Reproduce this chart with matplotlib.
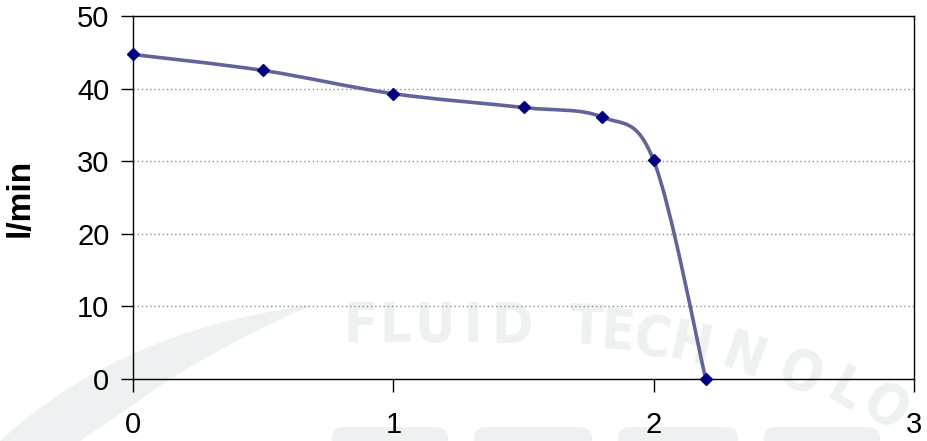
import numpy as np
import matplotlib
matplotlib.use('Agg')
import matplotlib.pyplot as plt
from matplotlib.path import Path
from matplotlib.patches import PathPatch, FancyBboxPatch

# Data
pressure = [0.0, 0.5, 1.0, 1.5, 1.8, 2.0, 2.2]
flow = [44.7, 42.5, 39.3, 37.4, 36.1, 30.1, 0.0]
x_ticks = [0, 1, 2, 3]
y_ticks = [0, 10, 20, 30, 40, 50]
y_label = 'l/min'

plt.rcParams['font.family'] = ['Liberation Sans', 'DejaVu Sans']

fig = plt.figure(figsize=(9.27, 4.41), dpi=100)
ax = fig.add_axes([133 / 927, 1 - 379 / 441, 781 / 927, 363 / 441])
ax.set_facecolor('none')

# faint watermark in the background (pixel coordinates)
wm_color = '#edf1f1'
bg = fig.add_axes([0, 0, 1, 1], zorder=-1)
bg.set_xlim(0, 927)
bg.set_ylim(441, 0)
bg.axis('off')
swoosh = Path([(0, 441), (0, 441), (120, 330), (312, 305),
               (200, 355), (140, 400), (80, 441), (0, 441)],
              [Path.MOVETO, Path.LINETO, Path.CURVE3, Path.CURVE3,
               Path.CURVE3, Path.CURVE3, Path.LINETO, Path.CLOSEPOLY])
bg.add_patch(PathPatch(swoosh, facecolor=wm_color, edgecolor='none'))
letters = [('F', 360, 327, 0), ('L', 395, 327, 0), ('U', 435, 327, 0),
           ('I', 473, 327, 0), ('D', 512, 327, 0),
           ('T', 586, 328, -2), ('E', 618, 333, -4), ('C', 652, 340, -8),
           ('H', 690, 347, -13), ('N', 743, 358, -20), ('O', 800, 375, -25),
           ('L', 845, 392, -30), ('O', 885, 408, -35)]
for ch, lx, ly, rot in letters:
    bg.text(lx, ly, ch, fontsize=40, fontweight='bold', color=wm_color,
            ha='center', va='center', rotation=rot, family='DejaVu Sans',
            fontstretch='condensed', rotation_mode='anchor')
for rx0, rx1 in [(332, 448), (474, 592), (618, 738), (764, 880)]:
    bg.add_patch(FancyBboxPatch((rx0 + 12, 439), rx1 - rx0 - 24, 20,
                                boxstyle='round,pad=12', facecolor=wm_color,
                                edgecolor='none'))

# smoothed line (Bezier through the points, like a spreadsheet smoothed line)
pts = np.column_stack([pressure, flow])
verts = [tuple(pts[0])]
codes = [Path.MOVETO]
n = len(pts)
for i in range(n - 1):
    p0 = pts[i - 1] if i > 0 else pts[i]
    p1 = pts[i]
    p2 = pts[i + 1]
    p3 = pts[i + 2] if i + 2 < n else pts[i + 1]
    c1 = p1 + (p2 - p0) / 6.0
    c2 = p2 - (p3 - p1) / 6.0
    verts += [tuple(c1), tuple(c2), tuple(p2)]
    codes += [Path.CURVE4] * 3
ax.add_patch(PathPatch(Path(verts, codes), facecolor='none',
                       edgecolor='#63639b', lw=2.6, zorder=3))
ax.plot(pressure, flow, linestyle='none', marker='D', markersize=6.5,
        color='#000080', zorder=4, clip_on=False)

ax.set_xlim(0, 3)
ax.set_ylim(0, 50)
ax.set_xticks(x_ticks)
ax.set_yticks(y_ticks)
ax.tick_params(direction='out', length=9, width=1, labelsize=21,
               colors='black')
ax.tick_params(axis='x', pad=14)
ax.tick_params(axis='y', pad=8)
for s in ax.spines.values():
    s.set_color('black')
    s.set_linewidth(1)
ax.yaxis.grid(True, linestyle=(0, (1, 2)), color='#8c8c8c', lw=1)
ax.set_axisbelow(True)
ax.set_ylabel(y_label, fontsize=24, fontweight='bold')
ax.yaxis.set_label_coords(-0.125, 0.5)

fig.savefig('out.png', dpi=100)
